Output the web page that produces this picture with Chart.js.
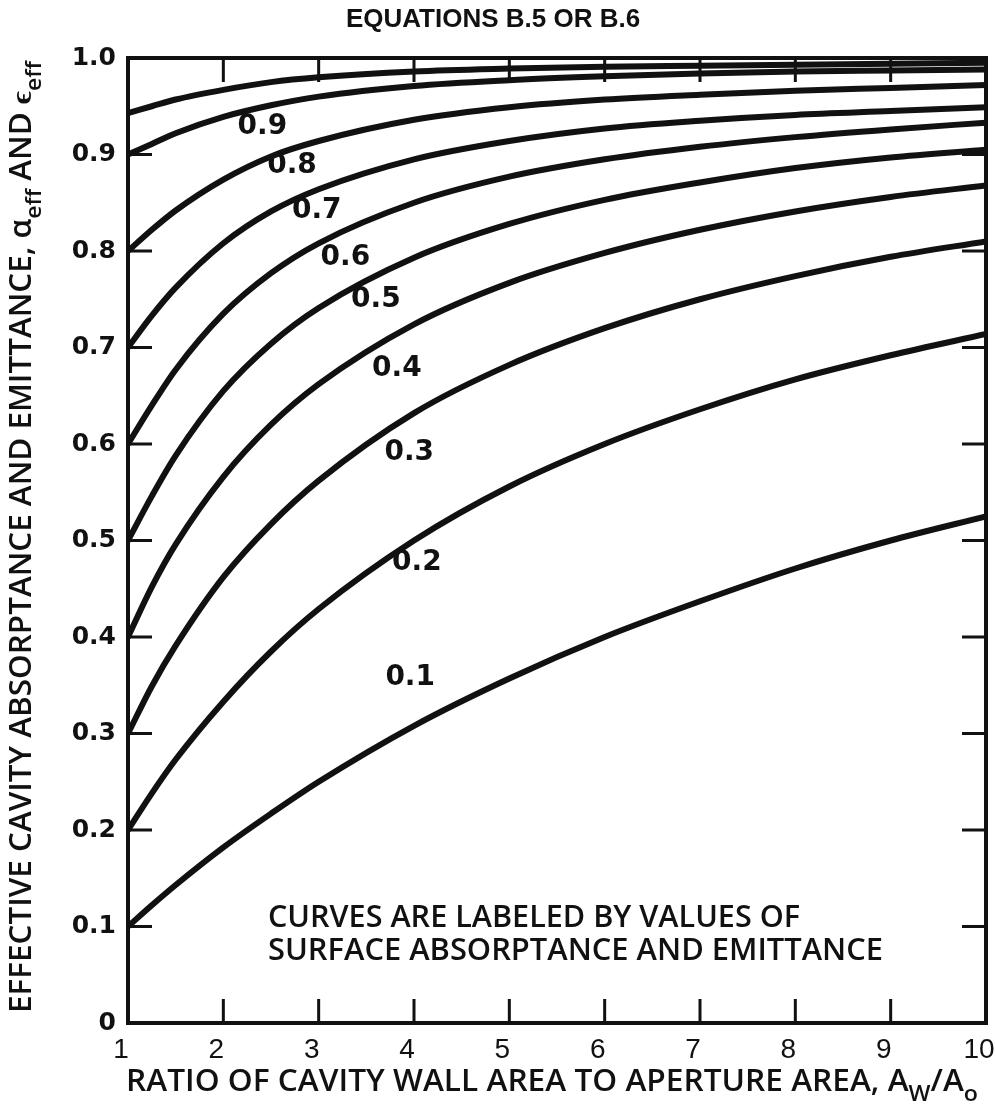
<!DOCTYPE html>
<html>
<head>
<meta charset="utf-8">
<script src="https://cdn.jsdelivr.net/npm/chart.js@4.4.1/dist/chart.umd.min.js"></script>
<style>
  html, body { margin: 0; padding: 0; background: #fff; }
  #wrap { width: 996px; height: 1118px; }
</style>
</head>
<body>
<div id="wrap"><canvas id="chart" width="996" height="1118"></canvas></div>
<script>
// Area ratio A_w/A_o (x axis)
const xValues = [1, 1.25, 1.5, 2, 2.5, 3, 4, 5, 6, 7, 8, 9, 10];

// Effective absorptance/emittance, one array per surface value
const a010 = [0.100, 0.122, 0.143, 0.182, 0.217, 0.250, 0.308, 0.357, 0.400, 0.437, 0.471, 0.500, 0.525];
const a020 = [0.200, 0.238, 0.273, 0.333, 0.385, 0.429, 0.500, 0.556, 0.600, 0.636, 0.667, 0.692, 0.714];
const a030 = [0.300, 0.349, 0.391, 0.462, 0.517, 0.562, 0.632, 0.682, 0.720, 0.750, 0.774, 0.794, 0.810];
const a040 = [0.400, 0.452, 0.496, 0.566, 0.620, 0.662, 0.724, 0.767, 0.798, 0.822, 0.841, 0.856, 0.868];
const a050 = [0.500, 0.546, 0.588, 0.655, 0.704, 0.741, 0.793, 0.828, 0.853, 0.871, 0.886, 0.897, 0.905];
const a060 = [0.600, 0.640, 0.677, 0.735, 0.777, 0.808, 0.850, 0.877, 0.895, 0.908, 0.918, 0.926, 0.933];
const a070 = [0.700, 0.733, 0.762, 0.808, 0.841, 0.864, 0.895, 0.914, 0.927, 0.935, 0.941, 0.945, 0.949];
const a080 = [0.800, 0.822, 0.842, 0.874, 0.898, 0.914, 0.936, 0.949, 0.957, 0.962, 0.966, 0.969, 0.972];
const a090 = [0.900, 0.911, 0.922, 0.939, 0.951, 0.960, 0.971, 0.977, 0.981, 0.984, 0.986, 0.987, 0.988];
const a095 = [0.943, 0.950, 0.957, 0.967, 0.975, 0.980, 0.986, 0.989, 0.991, 0.992, 0.993, 0.994, 0.995];

// Curve labels and where they sit (data units)
const curveLabels = ['0.9', '0.8', '0.7', '0.6', '0.5', '0.4', '0.3', '0.2', '0.1'];
const curveLabelX = [2.41, 2.72, 2.98, 3.28, 3.60, 3.82, 3.95, 4.03, 3.96];
const curveLabelY = [0.929, 0.888, 0.842, 0.793, 0.749, 0.678, 0.591, 0.477, 0.358];

const noteLines = ['CURVES ARE LABELED BY VALUES OF', 'SURFACE ABSORPTANCE AND EMITTANCE'];

const curves = [a010, a020, a030, a040, a050, a060, a070, a080, a090, a095];
const curveNames = ['0.1', '0.2', '0.3', '0.4', '0.5', '0.6', '0.7', '0.8', '0.9', '0.95'];

const INK = '#111';

// draw a run of text (with optional subscripts) squeezed to a given width
function drawRun(ctx, parts, o) {
    ctx.save();
    const mainFont = `${o.weight || ''} ${o.size}px ${o.family}`;
    const subFont = `${o.weight || ''} ${Math.round(o.size * 0.72)}px ${o.family}`;
    const widths = parts.map(p => {
        ctx.font = p.sub ? subFont : mainFont;
        return ctx.measureText(p.text).width;
    });
    const natural = widths.reduce((a, b) => a + b, 0);
    ctx.translate(o.x, o.y);
    if (o.rotate) ctx.rotate(o.rotate);
    ctx.scale(o.width / natural, 1);
    ctx.textBaseline = 'middle';
    ctx.textAlign = 'left';
    ctx.fillStyle = INK;
    let cx = 0;
    parts.forEach((p, i) => {
        ctx.font = p.sub ? subFont : mainFont;
        ctx.fillText(p.text, cx, p.sub ? o.size * 0.42 : 0);
        cx += widths[i];
    });
    ctx.restore();
}

const decorations = {
    id: 'decorations',
    afterDatasetsDraw(chart) {
        const { ctx, chartArea: area, scales: { x, y } } = chart;
        ctx.save();

        // frame
        ctx.strokeStyle = INK;
        ctx.lineWidth = 4;
        ctx.strokeRect(area.left, area.top, area.right - area.left, area.bottom - area.top);

        // inward tick marks on all four sides
        ctx.lineWidth = 3;
        const tickLen = 24;
        for (let v = 2; v <= 9; v++) {
            const px = x.getPixelForValue(v);
            ctx.beginPath();
            ctx.moveTo(px, area.bottom); ctx.lineTo(px, area.bottom - tickLen);
            ctx.moveTo(px, area.top); ctx.lineTo(px, area.top + tickLen);
            ctx.stroke();
        }
        for (let k = 1; k <= 9; k++) {
            const py = y.getPixelForValue(k / 10);
            ctx.beginPath();
            ctx.moveTo(area.left, py); ctx.lineTo(area.left + tickLen, py);
            ctx.moveTo(area.right, py); ctx.lineTo(area.right - tickLen, py);
            ctx.stroke();
        }

        // curve labels
        ctx.fillStyle = INK;
        ctx.font = 'bold 28px "DejaVu Sans"';
        ctx.textAlign = 'center';
        ctx.textBaseline = 'middle';
        curveLabels.forEach((t, i) => {
            ctx.fillText(t, x.getPixelForValue(curveLabelX[i]), y.getPixelForValue(curveLabelY[i]));
        });
        ctx.restore();

        // note inside the plot
        drawRun(ctx, [{ text: noteLines[0] }], { x: 268, y: 918, width: 532, size: 30, family: '"Open Sans"', weight: '600' });
        drawRun(ctx, [{ text: noteLines[1] }], { x: 268, y: 951, width: 615, size: 30, family: '"Open Sans"', weight: '600' });

        // x axis title
        drawRun(ctx, [
            { text: 'RATIO OF CAVITY WALL AREA TO APERTURE AREA, A' },
            { text: 'W', sub: true },
            { text: '/A' },
            { text: 'o', sub: true }
        ], { x: 126, y: 1082, width: 852, size: 30, family: '"Open Sans"', weight: '600' });

        // y axis title
        drawRun(ctx, [
            { text: 'EFFECTIVE CAVITY ABSORPTANCE AND EMITTANCE, ' },
            { text: 'α' },
            { text: 'eff', sub: true },
            { text: ' AND ' },
            { text: 'ϵ' },
            { text: 'eff', sub: true }
        ], { x: 22, y: 1013, width: 952, size: 30, family: '"Open Sans"', weight: '600', rotate: -Math.PI / 2 });
    }
};

const datasets = curves.map((vals, i) => ({
    label: curveNames[i],
    data: xValues.map((xv, j) => ({ x: xv, y: vals[j] })),
    borderColor: INK,
    borderWidth: 6,
    pointRadius: 0,
    fill: false,
    cubicInterpolationMode: 'monotone',
    borderCapStyle: 'round'
}));

new Chart(document.getElementById('chart'), {
    type: 'line',
    data: { datasets },
    options: {
        responsive: false,
        animation: false,
        events: [],
        layout: { padding: { left: 0, right: 10, top: 0, bottom: 0 } },
        plugins: {
            legend: { display: false },
            tooltip: { enabled: false },
            title: {
                display: true,
                text: 'EQUATIONS B.5 OR B.6',
                color: INK,
                font: { family: '"Liberation Sans Narrow", "Liberation Sans", sans-serif', size: 26, weight: 'bold', lineHeight: 1.2 },
                padding: { top: 4, bottom: 22.8 }
            }
        },
        scales: {
            x: {
                type: 'linear',
                min: 1,
                max: 10,
                grid: { display: false, drawTicks: false },
                border: { display: false },
                ticks: {
                    stepSize: 1,
                    color: INK,
                    padding: 10,
                    maxRotation: 0,
                    labelOffset: -7,
                    font: { family: '"Liberation Sans Narrow", "Liberation Sans", sans-serif', size: 28 }
                },
                afterFit(s) { s.height = 95; s.paddingLeft = 0; s.paddingRight = 0; }
            },
            y: {
                min: 0,
                max: 1,
                grid: { display: false, drawTicks: false },
                border: { display: false },
                ticks: {
                    stepSize: 0.1,
                    color: INK,
                    padding: 12,
                    font: { family: '"DejaVu Sans"', size: 25, weight: 'bold' },
                    callback: v => (v === 0 ? '0' : v.toFixed(1))
                },
                afterFit(s) { s.width = 128; s.paddingTop = 0; s.paddingBottom = 0; }
            }
        }
    },
    plugins: [decorations]
});
</script>
</body>
</html>
